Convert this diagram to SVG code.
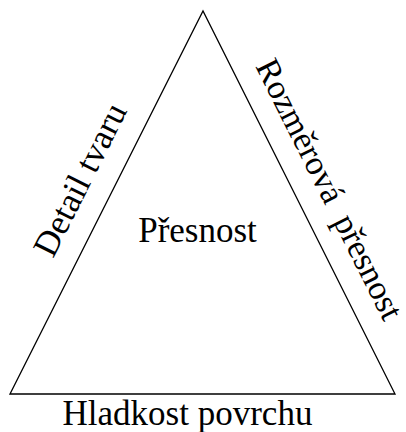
<svg xmlns="http://www.w3.org/2000/svg" width="406" height="432" viewBox="0 0 406 432">
<style>
.t{font-family:"Liberation Serif","Times New Roman",serif;font-size:35px;fill:#000}
.e{fill:none;stroke:#000;stroke-width:1.3}
</style>
<rect width="406" height="432" fill="#fff"/>
<g id="connectors">
<polygon class="e" points="10,394 203,11 395,394"/>
</g>
<g id="center"><text class="t" x="197.5" y="242" text-anchor="middle">Přesnost</text></g>
<g id="left"><text class="t" transform="translate(53,259) rotate(-63.3)">Detail tvaru</text></g>
<g id="right"><text class="t" style="font-size:34px" transform="translate(255,66) rotate(63.3)" xml:space="preserve">Rozměrová  přesnost</text></g>
<g id="bottom"><text class="t" x="187.5" y="425" text-anchor="middle">Hladkost povrchu</text></g>
</svg>
